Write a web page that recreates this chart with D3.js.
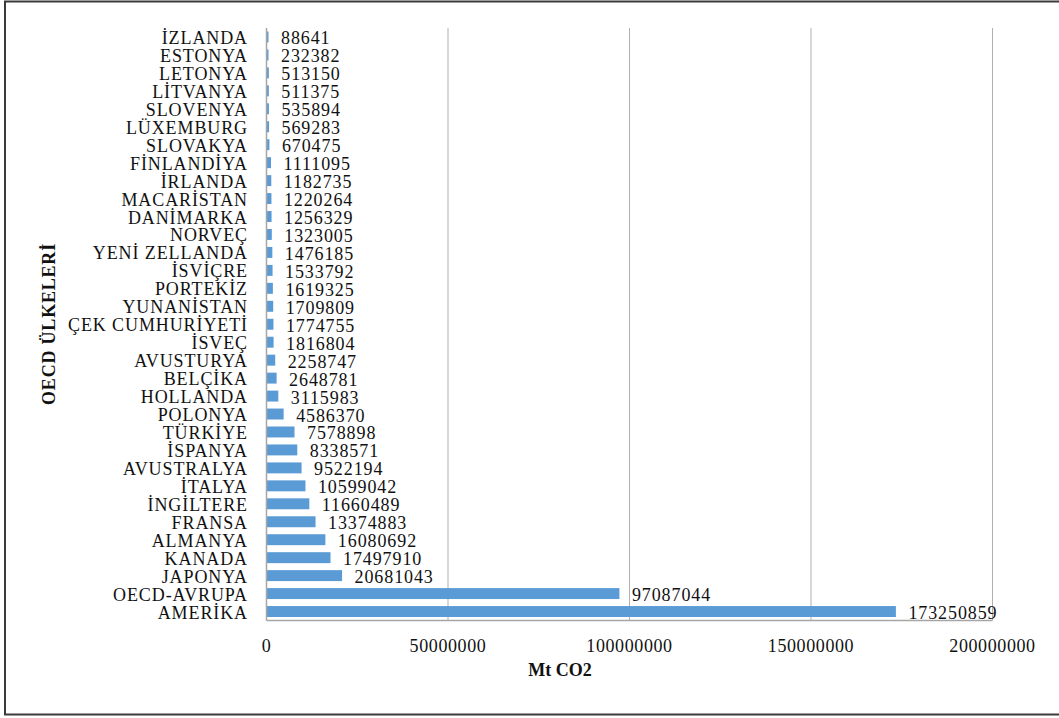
<!DOCTYPE html>
<html>
<head>
<meta charset="utf-8">
<script src="https://cdn.jsdelivr.net/npm/d3@7"></script>
<style>
  body { margin: 0; background: #fff; }
  svg text { font-family: "Liberation Serif", "Times New Roman", serif; fill: #111; }
</style>
</head>
<body>
<svg id="chart" width="1059" height="718"></svg>
<script>
// countries, top to bottom as in the chart
var countries = ["İZLANDA", "ESTONYA", "LETONYA", "LİTVANYA", "SLOVENYA", "LÜXEMBURG", "SLOVAKYA",
  "FİNLANDİYA", "İRLANDA", "MACARİSTAN", "DANİMARKA", "NORVEÇ", "YENİ ZELLANDA", "İSVİÇRE",
  "PORTEKİZ", "YUNANİSTAN", "ÇEK CUMHURİYETİ", "İSVEÇ", "AVUSTURYA", "BELÇİKA", "HOLLANDA",
  "POLONYA", "TÜRKİYE", "İSPANYA", "AVUSTRALYA", "İTALYA", "İNGİLTERE", "FRANSA", "ALMANYA",
  "KANADA", "JAPONYA", "OECD-AVRUPA", "AMERİKA"]
var emissions = [88641, 232382, 513150, 511375, 535894, 569283, 670475,
  1111095, 1182735, 1220264, 1256329, 1323005, 1476185, 1533792,
  1619325, 1709809, 1774755, 1816804, 2258747, 2648781, 3115983,
  4586370, 7578898, 8338571, 9522194, 10599042, 11660489, 13374883, 16080692,
  17497910, 20681043, 97087044, 173250859]
var xTicks = [0, 50000000, 100000000, 150000000, 200000000]
var xTitle = "Mt CO2"
var yTitle = "OECD ÜLKELERİ"

var svg = d3.select('#chart')

// outer frame (right edge runs past the picture)
svg.append('rect')
  .attr('x', 5).attr('y', 1.5).attr('width', 1100).attr('height', 713)
  .attr('fill', 'none').attr('stroke', '#3a3a3a').attr('stroke-width', 2)

// plot box ('top' is taken by window.top, so p-prefixed)
var pLeft = 266.5, pRight = 992.5, pTop = 28, pBottom = 620.5

var x = d3.scaleLinear().domain([0, 200000000]).range([pLeft, pRight])
var y = d3.scaleBand().domain(countries).range([pTop, pBottom]).paddingInner(0.39).paddingOuter(0.195)

// gridlines
svg.append('g').selectAll('line').data(xTicks.slice(1)).join('line')
  .attr('x1', d => x(d)).attr('x2', d => x(d))
  .attr('y1', pTop).attr('y2', pBottom)
  .attr('stroke', '#b0b0b0').attr('stroke-width', 1)

// bars
svg.append('g').selectAll('rect').data(countries).join('rect')
  .attr('x', pLeft + 0.5)
  .attr('y', d => y(d))
  .attr('width', (d, i) => Math.max(x(emissions[i]) - pLeft, 1.5))
  .attr('height', y.bandwidth())
  .attr('fill', '#5b9bd5')

// axis lines
svg.append('line').attr('x1', pLeft).attr('x2', pLeft).attr('y1', pTop).attr('y2', pBottom)
  .attr('stroke', '#a6a6a6').attr('stroke-width', 1.5)
svg.append('line').attr('x1', pLeft).attr('x2', pRight).attr('y1', pBottom).attr('y2', pBottom)
  .attr('stroke', '#a6a6a6').attr('stroke-width', 1.5)

// value labels
svg.append('g').selectAll('text').data(countries).join('text')
  .attr('x', (d, i) => Math.max(x(emissions[i]), pLeft + 1.5) + 13)
  .attr('y', d => y(d) + y.bandwidth() / 2 + 7.5)
  .attr('font-size', 18).attr('letter-spacing', 0.9)
  .text((d, i) => emissions[i])

// category labels
svg.append('g').selectAll('text').data(countries).join('text')
  .attr('x', 248)
  .attr('y', d => y(d) + y.bandwidth() / 2 + 7)
  .attr('text-anchor', 'end')
  .attr('font-size', 18).attr('letter-spacing', 0.9)
  .text(d => d)

// x tick labels
svg.append('g').selectAll('text').data(xTicks).join('text')
  .attr('x', d => x(d))
  .attr('y', 652)
  .attr('text-anchor', 'middle')
  .attr('font-size', 18).attr('letter-spacing', 0.6)
  .text(d => d)

// axis titles
svg.append('text').attr('x', 560).attr('y', 676)
  .attr('text-anchor', 'middle').attr('font-size', 18).attr('font-weight', 'bold')
  .text(xTitle)
svg.append('text')
  .attr('transform', 'translate(55,324) rotate(-90)')
  .attr('text-anchor', 'middle').attr('font-size', 18).attr('font-weight', 'bold')
  .attr('letter-spacing', 0.8)
  .text(yTitle)
</script>
</body>
</html>
